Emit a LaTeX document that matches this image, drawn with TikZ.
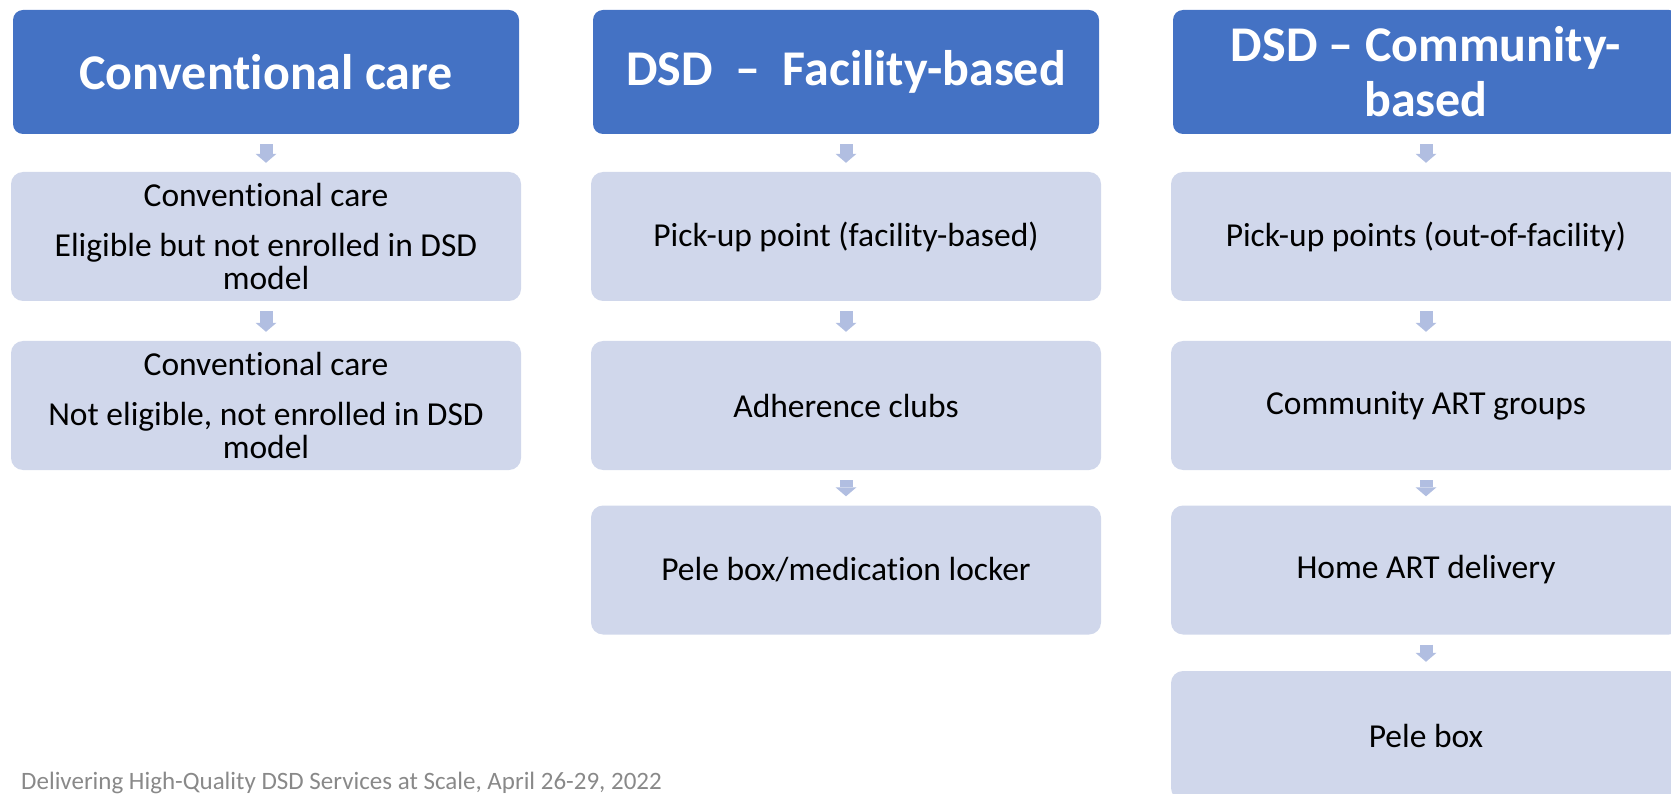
\documentclass[tikz,border=0pt]{standalone}
\usepackage{fontspec}
\setmainfont{Carlito}[Ligatures={TeX,NoCommon}]
\usepackage{tikz}
\usetikzlibrary{arrows.meta}
\definecolor{headblue}{RGB}{68,114,196}
\definecolor{boxblue}{RGB}{208,215,235}
\definecolor{arrowblue}{RGB}{177,190,225}
\definecolor{footgray}{RGB}{137,137,137}
\tikzstyle{header} = [rectangle, fill=headblue, text=white, rounded corners=10pt,
    minimum width=506pt, minimum height=124pt, inner sep=4pt, align=center,
    font=\fontsize{50}{55}\selectfont\bfseries]
\tikzstyle{block} = [rectangle, fill=boxblue, rounded corners=12pt,
    minimum width=510pt, minimum height=129pt, inner sep=4pt, align=center,
    font=\fontsize{33.5}{33}\selectfont]
\tikzstyle{line} = [draw=arrowblue, line width=13pt,
    -{Triangle[length=9pt,width=21pt,line width=0pt]}, shorten <=10pt, shorten >=9pt]

\begin{document}
\begin{tikzpicture}[x=1pt, y=-1pt]
    \useasboundingbox (0,0) rectangle (1671,794);
    % Place nodes
    \node [header] at (266,72) (conv) {Conventional care};
    \node [header] at (846,72) (facility) {DSD~~--~~Facility-based};
    \node [header] at (1426,72) (community) {DSD -- Community-\\based};

    \node [block] at (266,236.5) (eligible) {Conventional care\\[17pt]Eligible but not enrolled in DSD\\model};
    \node [block] at (266,405.5) (noteligible) {Conventional care\\[17pt]Not eligible, not enrolled in DSD\\model};

    \node [block] at (846,236.5) (pickup) {Pick-up point (facility-based)};
    \node [block] at (846,405.5) (clubs) {Adherence clubs};
    \node [block] at (846,570) (locker) {Pele box/medication locker};

    \node [block] at (1426,236.5) (pickups) {Pick-up points (out-of-facility)};
    \node [block] at (1426,405.5) (groups) {Community ART groups};
    \node [block] at (1426,570) (delivery) {Home ART delivery};
    \node [block] at (1426,735.5) (pelebox) {Pele box};

    \node [anchor=base west, inner sep=0pt, text=footgray, font=\fontsize{25}{30}\selectfont]
        at (21,789) (footer) {Delivering High-Quality DSD Services at Scale, April 26-29, 2022};
    % Draw edges
    \path [line] (conv) -- (eligible);
    \path [line] (eligible) -- (noteligible);
    \path [line] (facility) -- (pickup);
    \path [line] (pickup) -- (clubs);
    \path [line] (clubs) -- (locker);
    \path [line] (community) -- (pickups);
    \path [line] (pickups) -- (groups);
    \path [line] (groups) -- (delivery);
    \path [line] (delivery) -- (pelebox);
\end{tikzpicture}
\end{document}
